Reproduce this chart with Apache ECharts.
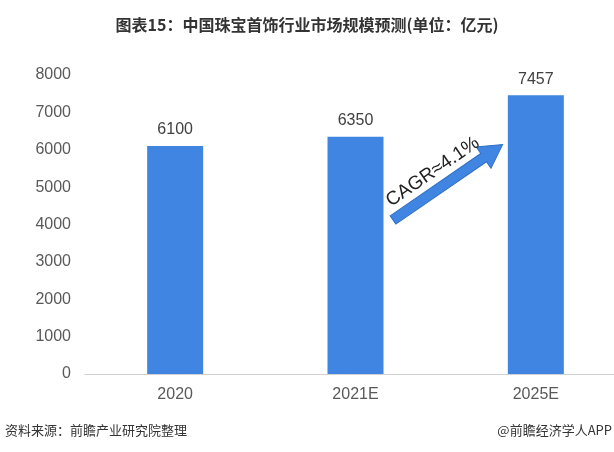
<!DOCTYPE html>
<html><head><meta charset="utf-8">
<script src="https://cdn.jsdelivr.net/npm/echarts@6/dist/echarts.min.js"></script>
<style>html,body{margin:0;padding:0;background:#fff}#c{width:614px;height:452px}</style>
</head><body><div id="c"></div>
<script>
const categories = ['2020', '2021E', '2025E'];
const values = [6100, 6350, 7457];
const yTicks = [0, 1000, 2000, 3000, 4000, 5000, 6000, 7000, 8000];
const titleText = '图表15：中国珠宝首饰行业市场规模预测(单位：亿元)';
const sourceText = '资料来源：前瞻产业研究院整理';
const brandText = '@前瞻经济学人APP';
const cagrText = 'CAGR≈4.1%';

const chart = echarts.init(document.getElementById('c'));
const ang = Math.atan2(75, 109);
chart.setOption({
  animation: false,
  title: {
    text: titleText, left: 'center', top: 12,
    textStyle: {fontFamily: 'Noto Sans CJK SC', fontWeight: 'bold', fontSize: 16, color: '#333'}
  },
  grid: {left: 85, width: 541, top: 75, bottom: 78, outerBoundsMode: 'none', containLabel: false},
  xAxis: {
    type: 'category', data: categories,
    axisLine: {lineStyle: {color: '#d0d0d0'}},
    axisTick: {show: false},
    axisLabel: {fontFamily: 'Liberation Sans', fontSize: 16, color: '#595959', margin: 13}
  },
  yAxis: {
    type: 'value', min: yTicks[0], max: yTicks[yTicks.length - 1], interval: 1000,
    splitLine: {show: false},
    axisLabel: {fontFamily: 'Liberation Sans', fontSize: 16, color: '#595959', margin: 14, formatter: v => String(v)}
  },
  series: [{
    type: 'bar', data: values, barWidth: 56,
    itemStyle: {color: '#3F85E1'},
    label: {show: true, position: 'top', distance: 8, fontFamily: 'Liberation Sans', fontSize: 16, color: '#404040'}
  }],
  graphic: [
    {
      type: 'group', x: 393, y: 220, rotation: ang,
      children: [
        {type: 'polygon', shape: {points: [[0,-5],[110,-5],[110,-13],[133,0],[110,13],[110,5],[0,5]]},
         style: {fill: '#3F85E1', stroke: '#2F6FC4', lineWidth: 1}},
        {type: 'text', x: 60, y: -17, style: {text: cagrText, fontFamily: 'Liberation Sans', fontSize: 19, fill: '#222', align: 'center', verticalAlign: 'middle'}}
      ]
    },
    {type: 'text', left: 5, top: 424, style: {text: sourceText, fontFamily: 'Noto Sans CJK SC', fontSize: 13, fill: '#333'}},
    {type: 'text', right: 2, top: 424, style: {text: brandText, fontFamily: 'Noto Sans CJK SC', fontSize: 13, fill: '#333'}}
  ]
});
</script></body></html>
